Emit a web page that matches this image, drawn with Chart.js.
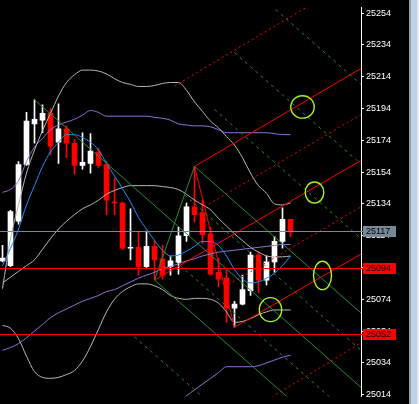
<!DOCTYPE html>
<html>
<head>
<meta charset="utf-8">
<style>
  html, body { margin: 0; padding: 0; background: #000; }
  canvas { display: block; }
</style>
<script src="https://cdn.jsdelivr.net/npm/chart.js@4.4.0/dist/chart.umd.min.js"></script>
</head>
<body>
<canvas id="myChart" width="419" height="404"></canvas>
<script>
// candles, index 0 = left-most bar
const opens  = [25098.2, 25095.2, 25123.1, 25158.8, 25184.3, 25186.7, 25191.0, 25172.8, 25181.3, 25172.2,
                25158.2, 25159.5, 25166.7, 25158.8, 25135.2, 25134.6, 25106.1, 25106.7, 25094.6, 25107.3,
                25099.4, 25094.6, 25097.0, 25114.0, 25132.2, 25128.5, 25115.2, 25091.0, 25087.3, 25068.5,
                25071.0, 25079.5, 25101.9, 25086.1, 25097.6, 25110.4, 25124.3];
const highs  = [25107.9, 25130.0, 25160.7, 25191.6, 25199.5, 25196.4, 25194.0, 25197.0, 25183.1, 25174.6,
                25178.8, 25178.2, 25169.2, 25160.7, 25150.4, 25135.2, 25131.0, 25117.0, 25117.0, 25111.0,
                25107.9, 25101.2, 25119.5, 25134.6, 25157.6, 25136.4, 25119.5, 25100.0, 25092.2, 25072.8,
                25089.2, 25103.7, 25103.7, 25101.2, 25113.4, 25131.6, 25124.3];
const lows   = [25097.6, 25094.6, 25121.3, 25158.2, 25172.2, 25178.8, 25164.9, 25159.5, 25163.1, 25152.8,
                25155.8, 25153.4, 25157.0, 25127.3, 25127.3, 25105.0, 25098.8, 25089.2, 25094.0, 25086.1,
                25086.7, 25089.2, 25089.8, 25110.4, 25122.5, 25109.2, 25089.2, 25081.9, 25059.5, 25056.4,
                25070.5, 25076.4, 25078.2, 25083.1, 25091.0, 25106.1, 25113.4];
const closes = [25100.0, 25129.2, 25158.8, 25186.1, 25187.3, 25191.0, 25170.4, 25181.3, 25172.2, 25158.2,
                25160.1, 25167.3, 25158.2, 25136.4, 25134.6, 25106.1, 25106.7, 25094.6, 25107.3, 25098.8,
                25089.2, 25098.2, 25114.0, 25132.2, 25127.3, 25114.6, 25089.8, 25086.7, 25068.5, 25071.0,
                25080.1, 25101.9, 25086.1, 25097.6, 25110.4, 25124.3, 25116.4];

// indicators, one value per bar
const maBlue = [25095.2, 25106.1, 25118.2, 25133.4, 25145.5, 25157.6, 25166.7, 25172.8, 25177.6, 25177.6,
                25175.8, 25172.8, 25167.9, 25159.5, 25151.6, 25143.7, 25135.2, 25125.5, 25118.2, 25111.0,
                25104.9, 25101.3, 25101.9, 25104.3, 25107.3, 25110.4, 25110.4, 25107.9, 25101.3, 25092.8,
                25086.7, 25084.3, 25084.9, 25087.3, 25090.4, 25095.2, 25101.3];
const greyUpper = [25080.7, 25112.2, 25133.4, 25153.4, 25167.9, 25180.1, 25191.0, 25201.9, 25210.4, 25215.2,
                   25218.2, 25218.2, 25217.6, 25215.8, 25212.8, 25210.4, 25209.2, 25207.9, 25207.9, 25208.5,
                   25209.8, 25210.4, 25210.4, 25205.5, 25198.2, 25192.2, 25186.1, 25181.9, 25176.4, 25171.0,
                   25163.1, 25153.4, 25145.5, 25140.7, 25134.0, 25133.4, 25134.6];
const greyMid = [25084.3, 25087.9, 25091.6, 25095.2, 25098.8, 25105.5, 25112.2, 25118.2, 25123.1, 25127.3,
                 25131.0, 25133.4, 25136.4, 25140.1, 25142.5, 25144.3, 25145.5, 25145.5, 25145.5, 25145.5,
                 25144.9, 25144.3, 25143.1, 25140.1, 25136.4, 25133.4, 25130.4, 25124.9, 25120.1, 25115.2,
                 25111.0, 25106.7, 25103.7, 25101.3, 25100.7, 25100.7, 25101.3];
const greyLower = [25057.6, 25055.8, 25049.2, 25038.2, 25028.5, 25024.9, 25024.3, 25024.9, 25026.7, 25029.2,
                   25035.2, 25044.3, 25055.2, 25066.1, 25074.0, 25078.9, 25081.9, 25083.7, 25083.7, 25082.5,
                   25080.1, 25076.4, 25074.6, 25074.0, 25074.6, 25074.6, 25074.0, 25071.6, 25066.1, 25059.5,
                   25060.1, 25061.9, 25064.3, 25066.1, 25067.3, 25067.3, 25067.3];
const purpleUpper = [25141.3, 25143.1, 25148.5, 25160.7, 25169.8, 25175.2, 25180.7, 25183.7, 25185.5, 25187.3,
                     25189.8, 25192.8, 25191.6, 25189.2, 25189.2, 25189.2, 25189.2, 25189.2, 25189.2, 25188.5,
                     25187.9, 25186.7, 25184.3, 25183.7, 25183.1, 25183.1, 25182.5, 25180.7, 25178.8, 25178.8,
                     25178.8, 25178.8, 25178.8, 25178.8, 25178.2, 25177.6, 25177.6];
const purpleMid = [25041.9, 25043.7, 25046.1, 25049.8, 25054.0, 25058.2, 25062.5, 25065.5, 25067.9, 25070.4,
                   25072.8, 25074.6, 25076.4, 25078.9, 25080.1, 25082.5, 25084.9, 25087.3, 25089.2, 25091.0,
                   25093.4, 25094.6, 25096.4, 25098.2, 25099.5, 25101.3, 25102.5, 25103.7, 25104.3, 25104.9,
                   25105.5, 25106.1, 25106.7, 25107.3, 25107.9, 25108.5, 25108.5];
const purpleLower = [null, null, null, null, null, null, null, null, null, null,
                     null, null, null, null, null, null, null, null, null, null,
                     null, null, 25009.2, 25013.4, 25017.0, 25020.7, 25024.3, 25027.9, 25031.6, 25031.6,
                     25031.6, 25031.6, 25032.2, 25034.0, 25035.8, 25037.6, 25038.8];

// axis and levels
const priceTicks = [25014, 25034, 25054, 25074, 25094, 25114, 25134, 25154, 25174, 25194, 25214, 25234, 25254];
const levels = [25117, 25094, 25052];

// pitchfork lines [bar0, price0, bar1, price1]
const redSolid = [
  [24, 25157.6, 29, 25056.4],
  [19, 25086.1, 44.81, 25161.3],
  [24, 25157.6, 44.81, 25219.2],
  [29, 25056.4, 44.81, 25102.5]
];
const redDotted = [
  [25.25, 25132.3, 44.81, 25190.2],
  [27.75, 25081.7, 44.81, 25132.2],
  [21.5, 25208.2, 44.81, 25278.2],
  [31.5, 25005.8, 44.81, 25046.7]
];
const greenSolid = [
  [19, 25086.1, 24, 25157.6],
  [4, 25199.5, 44.81, 25018.6],
  [24, 25157.6, 44.81, 25065.4],
  [19, 25086.1, 44.81, 24971.8]
];
const greenDashed = [
  [22.75, 25139.8, 44.81, 25042.0],
  [20.25, 25104.0, 44.81, 24995.2],
  [26.5, 25193.4, 44.81, 25112.2],
  [29, 25229.2, 44.81, 25159.1],
  [31.5, 25267.9, 44.81, 25209.2],
  [16.5, 25050.4, 44.81, 24924.9]
];

// hand drawn ellipses: centre [bar, price]
const ellipses = [[37.5, 25195.0], [39.0, 25141.2], [40.0, 25089.0], [33.5, 25067.5]];
const ellipseRadii = [[11.7, 11.2], [9.3, 10.5], [9, 14.2], [11.2, 12]];

const RED = "#ff0000";
const GREEN = "#2e8b2e";

const upCandle = closes.map((c, i) => c >= opens[i]);
const candleColors = upCandle.map((u) => (u ? "#ffffff" : RED));

const toPoints = (vals) =>
  vals.map((v, i) => ({ x: i, y: v })).filter((p) => p.y !== null);

const curve = (vals, color) => ({
  type: "line",
  data: toPoints(vals),
  borderColor: color,
  borderWidth: 1,
  pointRadius: 0,
  cubicInterpolationMode: "monotone",
  order: 2,
});

const segment = (s, color, dash) => ({
  type: "line",
  data: [{ x: s[0], y: s[1] }, { x: s[2], y: s[3] }],
  borderColor: color,
  borderWidth: 1,
  borderDash: dash,
  pointRadius: 0,
  order: 1,
});

const xMin = -0.3125;
const xMax = 44.8125;

const levelColors = ["#778899", RED, RED];

const datasets = [
  {
    type: "bar",
    data: lows.map((l, i) => ({ x: i, y: [l, highs[i]] })),
    backgroundColor: candleColors,
    barThickness: 1,
    grouped: false,
    order: 4,
  },
  {
    type: "bar",
    data: opens.map((o, i) => ({ x: i, y: [o, closes[i]] })),
    backgroundColor: candleColors,
    barThickness: 5,
    minBarLength: 1,
    grouped: false,
    order: 3,
  },
  curve(greyUpper, "#b8b8b8"),
  curve(greyMid, "#b8b8b8"),
  curve(greyLower, "#b8b8b8"),
  curve(purpleUpper, "#9370db"),
  curve(purpleMid, "#9370db"),
  curve(purpleLower, "#9370db"),
  curve(maBlue, "#1e90ff"),
];
greenSolid.forEach((s) => datasets.push(segment(s, GREEN, [])));
greenDashed.forEach((s) => datasets.push(segment(s, GREEN, [3, 4])));
redSolid.forEach((s) => datasets.push(segment(s, RED, [])));
redDotted.forEach((s) => datasets.push(segment(s, RED, [2, 3])));

const extras = {
  id: "extras",
  beforeDraw(chart) {
    const ctx = chart.ctx;
    ctx.save();
    ctx.fillStyle = "#000";
    ctx.fillRect(0, 0, chart.width, chart.height);
    ctx.restore();
  },
  afterDatasetsDraw(chart) {
    const ctx = chart.ctx;
    const xs = chart.scales.x;
    const ys = chart.scales.y;
    const area = chart.chartArea;
    ctx.save();
    // horizontal price levels as 1px rows
    levels.forEach((lv, i) => {
      const y = Math.round(ys.getPixelForValue(lv));
      ctx.fillStyle = levelColors[i];
      ctx.fillRect(area.left, y, area.right + 3 - area.left, 1);
    });
    ctx.strokeStyle = "#a6f51f";
    ctx.lineWidth = 1.4;
    ellipses.forEach((e, i) => {
      ctx.beginPath();
      ctx.ellipse(xs.getPixelForValue(e[0]), ys.getPixelForValue(e[1]),
        ellipseRadii[i][0], ellipseRadii[i][1], 0, 0, Math.PI * 2);
      ctx.stroke();
    });
    ctx.restore();
  },
  afterDraw(chart) {
    const ctx = chart.ctx;
    const ys = chart.scales.y;
    const right = chart.chartArea.right;
    ctx.save();
    ctx.font = "9px 'Liberation Sans', Arial, sans-serif";
    ctx.textBaseline = "middle";
    levels.forEach((lv, i) => {
      const y = Math.round(ys.getPixelForValue(lv));
      ctx.fillStyle = levelColors[i];
      ctx.fillRect(right + 2, y - 5, 33, 11);
      ctx.fillStyle = "#000";
      ctx.fillText(String(lv), right + 5, y + 0.5);
    });
    // window strip at the right edge
    ctx.fillStyle = "#9c9c9c";
    ctx.fillRect(409, 0, 2, chart.height);
    ctx.fillStyle = "#bcd3ec";
    ctx.fillRect(411, 0, 6, chart.height);
    ctx.fillStyle = "#dfeaf6";
    ctx.fillRect(417, 0, 2, chart.height);
    ctx.restore();
  },
};

new Chart("myChart", {
  type: "bar",
  data: { datasets },
  options: {
    responsive: false,
    animation: false,
    devicePixelRatio: 1,
    events: [],
    layout: { padding: { left: 0, right: 10, top: 0, bottom: 0 } },
    plugins: { legend: { display: false }, tooltip: { enabled: false } },
    scales: {
      x: {
        type: "linear",
        display: false,
        offset: false,
        min: xMin,
        max: xMax,
      },
      y: {
        type: "linear",
        position: "right",
        min: 25012.8,
        max: 25257.64,
        afterBuildTicks: (s) => {
          s.ticks = priceTicks.map((v) => ({ value: v }));
        },
        afterFit: (s) => {
          s.width = 48;
        },
        ticks: {
          color: "#ffffff",
          padding: 2,
          autoSkip: false,
          font: { family: "'Liberation Sans', Arial, sans-serif", size: 9 },
          callback: (v) => String(v),
        },
        grid: { drawOnChartArea: false, color: "#ffffff", tickLength: 3 },
        border: { color: "#ffffff" },
      },
    },
  },
  plugins: [extras],
});
</script>
</body>
</html>
